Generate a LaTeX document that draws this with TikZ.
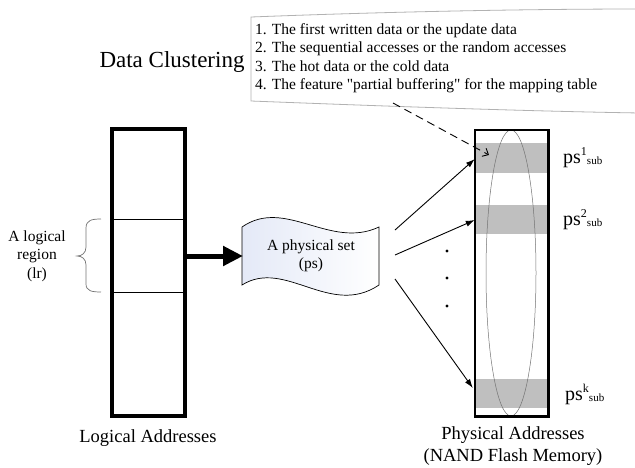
\documentclass[tikz,border=0pt]{standalone}
\usepackage{fontspec}
\setmainfont{Liberation Serif}
\usetikzlibrary{arrows.meta,calc,shapes.geometric}

\newcommand{\fs}[2]{\fontsize{#1}{#2}\selectfont}
% "ps" with a superscript index followed by the "sub" subscript
\newcommand{\psub}[1]{ps\raisebox{8pt}{\fs{12}{12}#1}\raisebox{-1.5pt}{\fs{11}{11}sub}}

\begin{document}
\begin{tikzpicture}[x=1pt,y=-1pt,
  colbox/.style={draw=black,line width=2.6pt,fill=white},
  band/.style={fill=black!25,draw=none},
  link/.style={-{Latex[length=9pt,width=6pt]},line width=0.9pt},
  lbl/.style={font=\fs{15.5}{18.5},align=center},
  caption/.style={font=\fs{18.5}{22},align=center},
  pslabel/.style={font=\fs{20}{20},anchor=base west,inner sep=0pt}]
\useasboundingbox (0,0) rectangle (635,467);

% callout with the clustering criteria
\draw[black!30,fill=white,line width=0.8pt]
  (251,17) .. controls (380,12) and (520,9) .. (640,9)
  -- (640,113) .. controls (520,111) and (380,106) .. (251,101) -- cycle;
\node[anchor=north west,align=left,font=\fs{15.5}{18.6},inner sep=0pt] (crit) at (255,23)
  {1. The first written data or the update data\\
   2. The sequential accesses or the random accesses\\
   3. The hot data or the cold data\\
   4. The feature \textquotedbl partial buffering\textquotedbl{} for the mapping table};

\node[font=\fs{23}{26},anchor=base,inner sep=0pt] (title) at (172,67) {Data Clustering};

% logical address space
\node[colbox,minimum width=72pt,minimum height=285pt,inner sep=0pt] (la) at (148.5,272.5) {};
\coordinate (d1) at (112,219);
\coordinate (d2) at (112,292);
\draw[line width=0.6pt] (d1) -- (d1 -| la.east);
\draw[line width=0.6pt] (d2) -- (d2 -| la.east);
\draw[colbox,fill=none] (la.south west) rectangle (la.north east);

% brace marking one logical region
\draw[black!55,line width=0.7pt]
  (101,219) .. controls (92,219) and (86,220) .. (86,228) -- (86,247)
  .. controls (86,253) and (82,256) .. (77,256)
  .. controls (82,256) and (86,259) .. (86,265) -- (86,284)
  .. controls (86,291) and (92,292) .. (101,292);
\node[lbl] (lr) at (37,256) {A logical\\region\\(lr)};
\node[caption] (lacap) at (148,438) {Logical Addresses};

% physical set (wavy tape)
\draw[line width=0.7pt,left color={rgb,255:red,228;green,233;blue,247},right color=white]
  (242,227) .. controls (285,197) and (330,250) .. (379,227)
  -- (379,285) .. controls (330,318) and (285,258) .. (242,285) -- cycle;
\node[lbl] (ps) at (311,256) {A physical set\\(ps)};
\coordinate (psin) at (243,256);
\draw[line width=5pt,-{Triangle[length=20pt,width=19pt]}] (la.east |- psin) -- (psin);

% physical address space
\node[draw=none,fill=white,minimum width=73pt,minimum height=286pt,inner sep=0pt] (pa) at (511.5,273) {};
\node[band,minimum width=71pt,minimum height=30pt,inner sep=0pt] (b1) at (511,158) {};
\node[band,minimum width=71pt,minimum height=29pt,inner sep=0pt] (b2) at (511,219.5) {};
\node[band,minimum width=71pt,minimum height=29pt,inner sep=0pt] (bk) at (511,393.5) {};
\node[draw=black!55,line width=0.5pt,ellipse,minimum width=50pt,minimum height=286pt,inner sep=0pt] (cl) at (511,273) {};
\draw[colbox,fill=none] (pa.south west) rectangle (pa.north east);

\node[pslabel] (l1) at (563,163) {\psub{1}};
\node[pslabel] (l2) at (563,225) {\psub{2}};
\node[pslabel] (lk) at (565,400) {\psub{k}};
\node[caption] (pacap) at (513,446) {Physical Addresses\\(NAND Flash Memory)};

% mapping of the set onto sub-sets
\coordinate (o1) at (395,230);
\coordinate (o2) at (395,255);
\coordinate (o3) at (395,279);
\draw[link] (o1) -- (pa.west |- 0,159);
\draw[link] (o2) -- (pa.west |- 0,220);
\draw[link] (o3) -- ($(pa.west |- 0,388)+(-2,0)$);
\foreach \yy [count=\i] in {251,278,306}
  \fill (447,\yy) circle (1.6pt) coordinate (dot\i);

\coordinate (cfrom) at (393,103);
\draw[dashed,dash pattern=on 8pt off 5pt,line width=0.9pt,-{Straight Barb[length=5pt,width=9pt]}]
  (cfrom) -- (489,155);
\end{tikzpicture}
\end{document}
